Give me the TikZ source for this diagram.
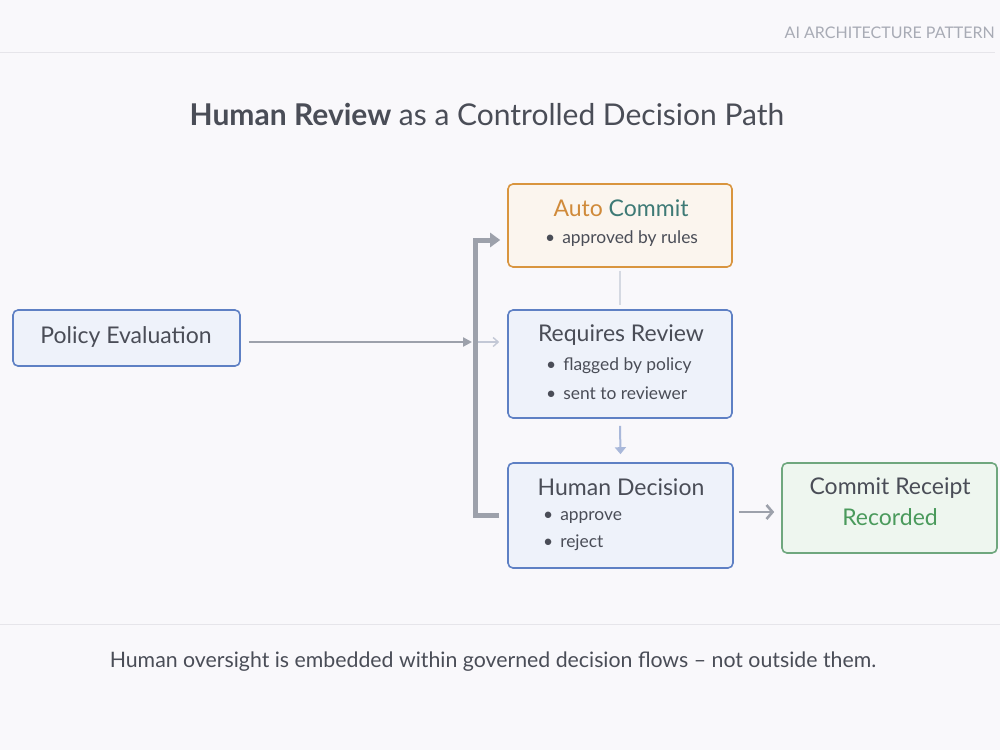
\documentclass[tikz,border=0pt]{standalone}
\usepackage{fontspec}
\setmainfont{Lato}
\usetikzlibrary{arrows.meta}
\definecolor{bg}{HTML}{F9F8FB}
\definecolor{txt}{HTML}{4A4D57}
\definecolor{hdr}{HTML}{A8ABB5}
\definecolor{rule}{HTML}{E6E5EA}
\definecolor{bluebd}{HTML}{5E80C4}
\definecolor{bluefill}{HTML}{EEF2FA}
\definecolor{orbd}{HTML}{D9953F}
\definecolor{orfill}{HTML}{FBF5EE}
\definecolor{orange2}{HTML}{D08A3A}
\definecolor{teal2}{HTML}{3E7A76}
\definecolor{grbd}{HTML}{6FA77E}
\definecolor{grfill}{HTML}{EEF6EF}
\definecolor{green2}{HTML}{4A9A5C}
\definecolor{arrowgray}{HTML}{9DA1AB}
\definecolor{lightarr}{HTML}{C3C8D6}
\definecolor{lightblue}{HTML}{A9B8DA}
\tikzset{
  box/.style={draw, rounded corners=5pt, line width=1.6pt},
  bluebox/.style={box, draw=bluebd, fill=bluefill},
  orbox/.style={box, draw=orbd, fill=orfill},
  grbox/.style={box, draw=grbd, fill=grfill},
  ttl/.style={text=txt, font=\fontsize{23}{27}\selectfont, inner sep=0pt},
  blt/.style={text=txt, font=\fontsize{17.4}{20}\selectfont, inner sep=0pt, anchor=west},
  conn/.style={draw=arrowgray, line width=2.6pt},
}
\newcommand{\bul}{\textbullet\hspace{7pt}}
\begin{document}
\begin{tikzpicture}[x=1pt,y=-1pt]
\fill[bg] (0,0) rectangle (1000,750);
\useasboundingbox (0,0) rectangle (1000,750);
% header
\draw[rule, line width=1pt] (0,52) -- (995,52);
\node[anchor=east, text=hdr, font=\fontsize{16}{19}\selectfont, inner sep=0pt] (hdr) at (995,33) {AI ARCHITECTURE PATTERN};
\node[text=txt, font=\fontsize{30}{36}\selectfont, inner sep=0pt] (title) at (487,114) {\textbf{Human Review} as a Controlled Decision Path};
% boxes
\node[bluebox, minimum width=227pt, minimum height=56pt] (pe) at (126.5,338) {};
\node[ttl] (pet) at (126,337) {Policy Evaluation};

\node[orbox, minimum width=224pt, minimum height=83pt] (ac) at (620,225.5) {};
\node[ttl] (act) at (621,208) {\textcolor{orange2}{Auto} \textcolor{teal2}{Commit}};
\node[blt] (ac1) at (545,239) {\bul approved by rules};

\node[bluebox, minimum width=224pt, minimum height=108pt] (rr) at (620,364) {};
\node[ttl] (rrt) at (621,335) {Requires Review};
\node[blt] (rr1) at (546,366) {\bul flagged by policy};
\node[blt] (rr2) at (546,393) {\bul sent to reviewer};

\node[bluebox, minimum width=225pt, minimum height=105pt] (hd) at (620.5,515.5) {};
\node[ttl] (hdt) at (621,487) {Human Decision};
\node[blt] (hd1) at (543,517) {\bul approve};
\node[blt] (hd2) at (543,543) {\bul reject};

\node[grbox, minimum width=215pt, minimum height=90pt] (cr) at (889.5,508) {};
\node[ttl] (crt) at (890,488) {Commit Receipt};
\node[ttl, text=green2] (crt2) at (890,517) {Recorded};

% connectors
\coordinate (j) at (475,342);
\draw[conn, -{Triangle[length=9pt,width=9pt]}] ([xshift=8pt]pe.east |- j) -- ([xshift=-3pt]j);
\draw[draw=lightarr, line width=1.4pt, -{Straight Barb[length=5pt,width=9pt]}] (j) -- ([xshift=-8pt]rr.west |- j);
\coordinate (bt) at (475,515);
\coordinate (tp) at (475,240);
\draw[draw=arrowgray, line width=5pt, -{Triangle[length=10pt,width=14pt]}] ([xshift=-8pt]hd.west |- bt) -- (bt) -- (tp) -- ([xshift=-7pt]ac.west |- tp);
\draw[draw=lightarr!70!white, line width=2pt] ([yshift=-3pt]ac.south) -- ([yshift=4pt]rr.north);
\draw[draw=lightblue, line width=2pt, -{Triangle[length=7pt,width=11pt]}] ([yshift=-7pt]rr.south) -- ([yshift=8pt]hd.north);
\draw[conn, -{Straight Barb[length=6pt,width=14pt]}] ([xshift=5pt]hd.east |- 0,512) -- ([xshift=-7pt]cr.west |- 0,512);

% footer
\draw[rule, line width=1pt] (0,624) -- (1000,624);
\node[text=txt, font=\fontsize{21.3}{25}\selectfont, inner sep=0pt] (foot) at (493,662) {Human oversight is embedded within governed decision flows -- not outside them.};
\end{tikzpicture}
\end{document}
